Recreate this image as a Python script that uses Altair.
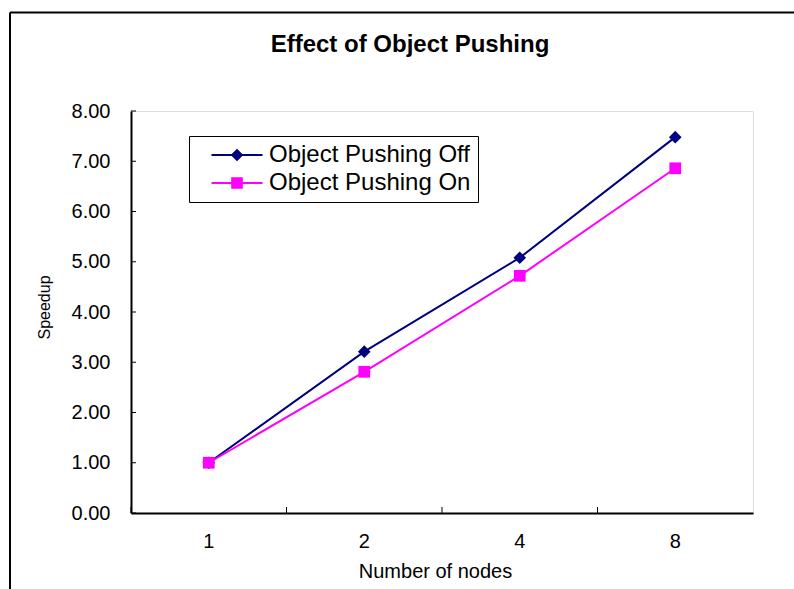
import altair as alt
import pandas as pd

# ---- data ----
nodes = ["1", "2", "4", "8"]
series_names = ["Object Pushing Off", "Object Pushing On"]
speedup_off = [1.00, 3.21, 5.08, 7.48]
speedup_on = [1.00, 2.81, 4.72, 6.86]
y_ticks = [0, 1, 2, 3, 4, 5, 6, 7, 8]

colors = ["#000080", "#FF00FF"]
shapes = ["diamond", "square"]
marker_sizes = [160, 137]

rows = []
for name, vals in zip(series_names, [speedup_off, speedup_on]):
    for n, v in zip(nodes, vals):
        rows.append({"nodes": n, "speedup": v, "series": name})
df = pd.DataFrame(rows)

FONT = "Liberation Sans"

x_scale = alt.Scale(paddingInner=0, paddingOuter=0)
x_axis = alt.Axis(
    title="Number of nodes",
    labelAngle=0,
    labelFont=FONT,
    labelFontSize=20,
    labelColor="black",
    labelPadding=18,
    ticks=False,
    tickSize=0,
    domainColor="black",
    domainWidth=2,
    grid=False,
    titleFont=FONT,
    titleFontSize=20,
    titleFontWeight="normal",
    titleColor="black",
    titleX=304,
    titleY=64,
    titleBaseline="alphabetic",
)

y_scale = alt.Scale(domain=[0, 8], nice=False)
y_axis = alt.Axis(
    title="Speedup",
    values=y_ticks,
    format=".2f",
    labelFont=FONT,
    labelFontSize=20,
    labelColor="black",
    labelPadding=21,
    ticks=False,
    tickSize=0,
    domainColor="black",
    domainWidth=2,
    grid=False,
    titleFont=FONT,
    titleFontSize=16,
    titleFontWeight="normal",
    titleColor="black",
    titleX=-81.4,
    titleY=196,
    titleBaseline="alphabetic",
)

x_enc = alt.X("nodes:N", sort=nodes, scale=x_scale, axis=x_axis)
y_enc = alt.Y("speedup:Q", scale=y_scale, axis=y_axis)

color_scale = alt.Scale(domain=series_names, range=colors)

path_off = "M-4.25,-0.17H4.25V0.17H-4.25Z M0,-1.05L1.05,0L0,1.05L-1.05,0Z"
path_on = "M-4.25,-0.17H4.25V0.17H-4.25Z M-0.97,-0.97H0.97V0.97H-0.97Z"
sym_expr = "datum.value === '%s' ? '%s' : '%s'" % (series_names[0], path_off, path_on)

legend = alt.Legend(
    title=None,
    orient="none",
    legendX=58,
    legendY=25,
    direction="vertical",
    fillColor="white",
    strokeColor="black",
    padding=7,
    labelFont=FONT,
    labelFontSize=24,
    labelColor="black",
    labelLimit=400,
    labelOffset=20,
    labelExpr="datum.label + '  '",
    symbolOffset=29,
    symbolSize=144,
    symbolStrokeWidth=0,
    symbolType={"expr": sym_expr},
    rowPadding=4,
)

base = alt.Chart(df)

layers = []
# lines, one per series, constant colours
for name, col in zip(series_names, colors):
    layers.append(
        base.transform_filter(alt.datum.series == name)
        .mark_line(strokeWidth=2, color=col)
        .encode(x=x_enc, y=y_enc)
    )

# markers, one layer per series; colour through the shared scale for the legend
point_layers = []
for name, shp, sz in zip(series_names, shapes, marker_sizes):
    point_layers.append(
        base.transform_filter(alt.datum.series == name)
        .mark_point(filled=True, opacity=1, shape=shp, size=sz)
        .encode(
            x=x_enc,
            y=y_enc,
            color=alt.Color("series:N", scale=color_scale, legend=legend),
        )
    )

# inward tick marks (Excel style): x ticks at category boundaries, y ticks at values
x_tick_rules = alt.Chart(alt.Data(values=[{"nodes": n} for n in nodes])).mark_rule(
    color="black", strokeWidth=1
).encode(
    x=alt.X("nodes:N", sort=nodes, scale=x_scale, axis=x_axis, bandPosition=0),
    y=alt.value(402),
    y2=alt.value(396),
)
y_tick_rules = alt.Chart(alt.Data(values=[{"speedup": v} for v in y_ticks])).mark_rule(
    color="black", strokeWidth=1
).encode(
    y=alt.Y("speedup:Q", scale=y_scale, axis=y_axis),
    x=alt.value(0),
    x2=alt.value(5),
)

frame_data = alt.Data(values=[{"k": 0}])
frame_left = alt.Chart(frame_data).mark_rule(color="black", strokeWidth=2).encode(
    x=alt.value(-121), y=alt.value(-98.5), y2=alt.value(478)
)
frame_top = alt.Chart(frame_data).mark_rule(color="black", strokeWidth=2).encode(
    x=alt.value(-121), x2=alt.value(663), y=alt.value(-98.5)
)

chart = alt.layer(
    frame_left, frame_top, x_tick_rules, y_tick_rules, *layers, *point_layers
).properties(
    width=622,
    height=402,
    autosize=alt.AutoSizeParams(type="none"),
    padding={"left": 131, "top": 111, "right": 41, "bottom": 76},
    title=alt.TitleParams(
        text="Effect of Object Pushing",
        font=FONT,
        fontSize=24,
        fontWeight="bold",
        color="black",
        anchor="middle",
        frame="group",
        dx=-32,
        baseline="alphabetic",
        offset=-64.5,
    ),
).configure_view(stroke="#808080", strokeWidth=2).configure(background="white")

chart.save("out.html", embed_options={"renderer": "svg", "actions": False})
